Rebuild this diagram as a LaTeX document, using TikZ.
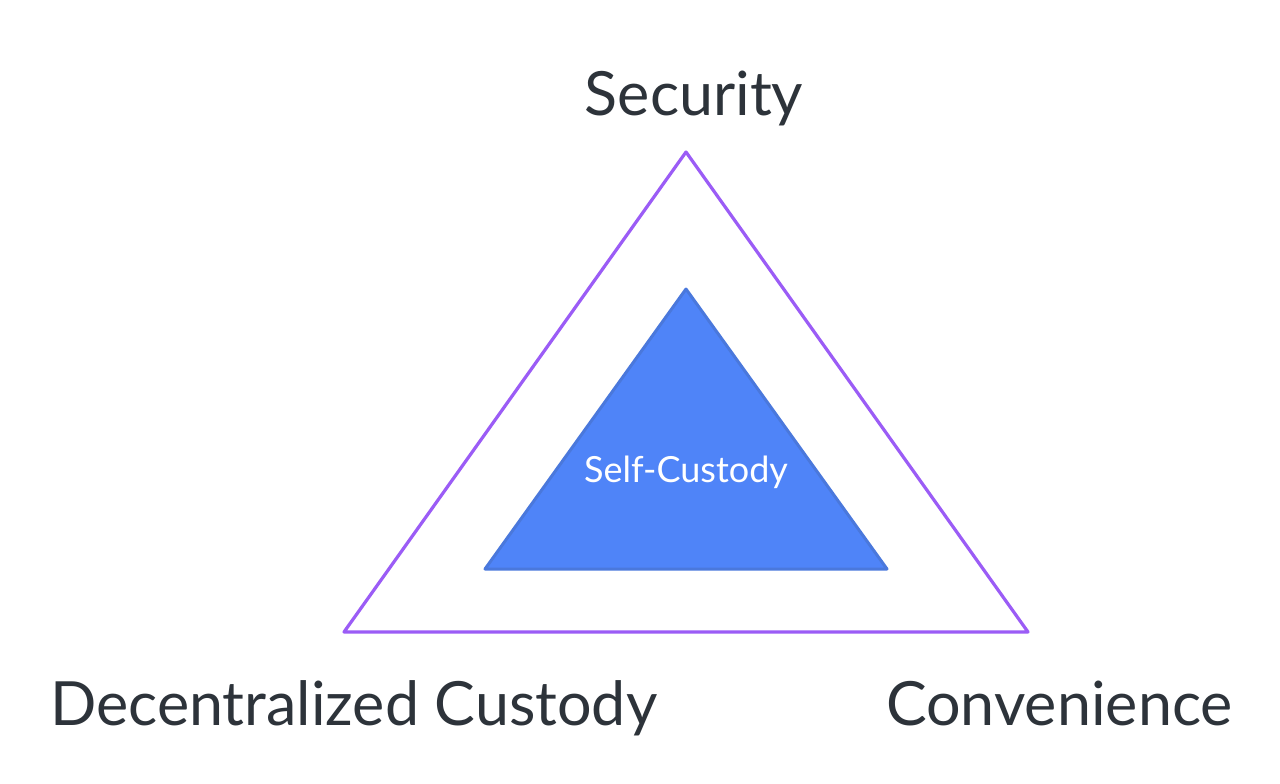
\documentclass[tikz,border=0pt]{standalone}
\usepackage{fontspec}
\setmainfont{Lato}
\definecolor{outline}{HTML}{9B5CF6}
\definecolor{innerfill}{HTML}{4F84F8}
\definecolor{innerdraw}{HTML}{4A78DC}
\definecolor{labeltext}{HTML}{2D333A}
\tikzset{
  biglabel/.style={text=labeltext, font=\fontsize{61}{63}\selectfont, inner sep=0pt},
  innerlabel/.style={text=white, font=\fontsize{36}{38}\selectfont, inner sep=0pt},
}
\begin{document}
\begin{tikzpicture}[x=1pt,y=-1pt]
\useasboundingbox (0,0) rectangle (1280,784);
\fill[white] (0,0) rectangle (1280,784);
\coordinate (ot) at (686,152);
\coordinate (ol) at (344,632);
\coordinate (or) at (1028,632);
\coordinate (it) at (686,289);
\coordinate (il) at (485,569);
\coordinate (ir) at (887,569);
\draw[outline, line width=3.2pt, line join=round] (ot) -- (ol) -- (or) -- cycle;
\draw[innerdraw, fill=innerfill, line width=3pt, line join=round] (it) -- (il) -- (ir) -- cycle;
\node[biglabel, anchor=base] (sec) at (694,115) {Security};
\node[biglabel, anchor=base west] (dec) at (50,725) {Decentralized Custody};
\node[biglabel, anchor=base east] (con) at (1233,725) {Convenience};
\node[innerlabel, anchor=base] (self) at (686,482) {Self-Custody};
\end{tikzpicture}
\end{document}
